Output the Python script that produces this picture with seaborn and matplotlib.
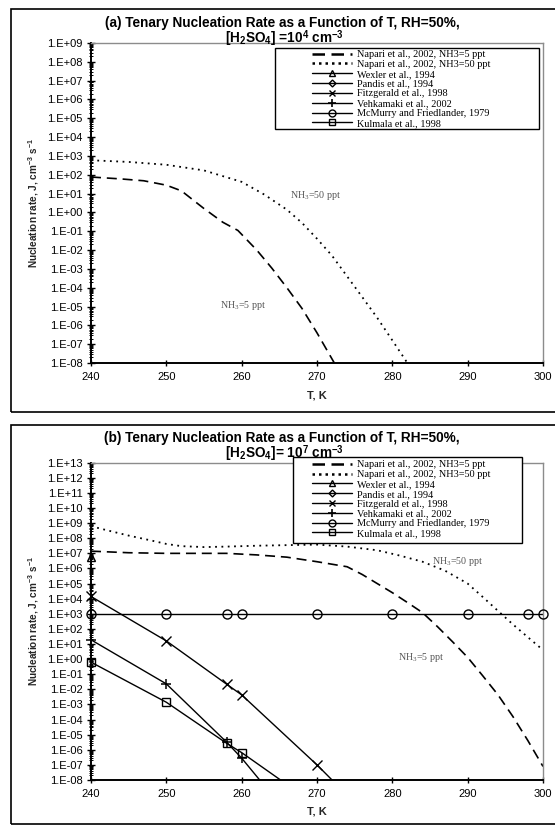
import numpy as np
import pandas as pd
import matplotlib
matplotlib.use("Agg")
import matplotlib.pyplot as plt
import seaborn as sns
from matplotlib.lines import Line2D
from matplotlib.patches import Rectangle
from matplotlib.font_manager import FontProperties
from matplotlib.ticker import LogLocator, FuncFormatter, MultipleLocator, NullFormatter

# ---------------- data ----------------
# Panel (a): [H2SO4] = 1e4 cm-3
a_T_5ppt = [240, 244, 247, 250, 252, 255, 257.5, 259.5, 262, 264, 266, 268, 270, 272.3]
a_J_5ppt = [7.6e1, 6.0e1, 4.8e1, 2.8e1, 1.4e1, 1.6e0, 3.0e-1, 1.1e-1, 1.0e-2, 1.1e-3, 1.0e-4, 8.0e-6, 4.0e-7, 1.0e-8]
a_T_50ppt = [240, 245, 250, 255, 260, 263, 266, 268, 270, 272, 274, 276, 278, 280, 282]
a_J_50ppt = [5.9e2, 4.8e2, 3.4e2, 1.7e2, 4.2e1, 8.9e0, 1.4e0, 2.8e-1, 4.0e-2, 5.0e-3, 4.0e-4, 3.2e-5, 2.5e-6, 1.6e-7, 1.0e-8]

# Panel (b): [H2SO4] = 1e7 cm-3
b_T_5ppt = [240, 245, 250, 255, 258, 262, 266, 270, 274, 276, 278, 280, 282, 284, 286, 288, 290, 292, 294, 296, 298, 300]
b_J_5ppt = [1.4e7, 1.1e7, 1.0e7, 1.0e7, 1.0e7, 7.9e6, 5.6e6, 2.8e6, 1.3e6, 4.0e5, 1.0e5, 2.5e4, 5.6e3, 1.2e3,
            1.4e2, 1.4e1, 1.3e0, 7.9e-2, 4.5e-3, 1.6e-4, 4.0e-6, 7.9e-8]
b_T_50ppt = [240, 242, 245, 248, 250, 252, 255, 258, 262, 266, 270, 274, 278, 281, 284, 287, 290, 292, 294, 296, 298, 300]
b_J_50ppt = [6.3e8, 3.5e8, 1.5e8, 7.1e7, 4.2e7, 3.0e7, 2.6e7, 2.8e7, 3.2e7, 3.5e7, 3.8e7, 2.8e7, 1.6e7, 7.1e6,
             2.8e6, 7.1e5, 1.0e5, 1.3e4, 1.6e3, 2.0e2, 2.8e1, 4.0e0]
wexler_T = [240]
wexler_J = [6.0e6]
fitz_T = [240, 250, 258, 260, 270, 280]
fitz_J = [1.4e4, 1.6e1, 2.2e-2, 4.3e-3, 1.0e-7, 1.0e-12]
vehk_T = [240, 250, 258, 260, 270]
vehk_J = [1.9e1, 2.3e-2, 3.2e-6, 2.8e-7, 2.5e-13]
kulm_T = [240, 250, 258, 260, 270]
kulm_J = [6.3e-1, 1.4e-3, 2.7e-6, 6.5e-7, 2.0e-10]
mcm_T = [240, 250, 258, 260, 270, 280, 290, 298, 300]
mcm_J = [1e3, 1e3, 1e3, 1e3, 1e3, 1e3, 1e3, 1e3, 1e3]

legend_labels = ["Napari et al., 2002, NH3=5 ppt", "Napari et al., 2002, NH3=50 ppt",
                 "Wexler et al., 1994", "Pandis et al., 1994", "Fitzgerald et al., 1998",
                 "Vehkamaki et al., 2002", "McMurry and Friedlander, 1979", "Kulmala et al., 1998"]

# ---------------- style ----------------
sns.set_theme(style="white")
plt.rcParams["font.family"] = ["Liberation Sans", "DejaVu Sans"]
plt.rcParams["mathtext.fontset"] = "custom"
plt.rcParams["mathtext.rm"] = "Liberation Serif"
plt.rcParams["mathtext.it"] = "Liberation Serif:italic"
plt.rcParams["mathtext.bf"] = "Liberation Sans:bold"
plt.rcParams["text.color"] = "black"

DASH = (0, (6, 3.5))
DOT = (0, (1, 2.5))
W = 555
H = 825

fig = plt.figure(figsize=(5.55, 8.25), dpi=100)
fig.patch.set_facecolor("white")


def px_axes(left, top, right, bottom):
    return fig.add_axes([left / W, 1 - bottom / H, (right - left) / W, (bottom - top) / H])


def style_axes(ax, ylo, yhi):
    ax.set_yscale("log")
    ax.set_xlim(240, 300)
    ax.set_ylim(ylo, yhi)
    ax.set_facecolor("white")
    ax.xaxis.set_major_locator(MultipleLocator(10))
    ax.yaxis.set_major_locator(LogLocator(base=10, numticks=100))
    ax.yaxis.set_minor_locator(LogLocator(base=10, subs=np.arange(2, 10), numticks=100))
    ax.yaxis.set_minor_formatter(NullFormatter())
    ax.yaxis.set_major_formatter(FuncFormatter(lambda v, p: "1.E{:+03d}".format(int(round(np.log10(v))))))
    ax.tick_params(axis="y", which="major", direction="inout", length=6, width=1, labelsize=8,
                   pad=3, left=True, color="black", labelcolor="black")
    ax.tick_params(axis="y", which="minor", direction="inout", length=3.5, width=0.7, left=True, color="black")
    ax.tick_params(axis="x", which="major", direction="inout", length=5, width=1, labelsize=8,
                   pad=4, bottom=True, color="black", labelcolor="black")
    for s in ["left", "bottom"]:
        ax.spines[s].set_color("black")
        ax.spines[s].set_linewidth(1.4)
    for s in ["top", "right"]:
        ax.spines[s].set_color("#8c8c8c")
        ax.spines[s].set_linewidth(1.0)
    ax.set_ylabel(r"Nucleation rate, J, cm$^{\mathbf{-3}}$ s$^{\mathbf{-1}}$", fontsize=7.2, fontweight="bold")
    ax.set_xlabel("T, K", fontsize=8, fontweight="bold")


def legend_handles():
    return [
        Line2D([], [], color="black", lw=1.8, linestyle=(0, (5, 2.6))),
        Line2D([], [], color="black", lw=1.8, linestyle=(0, (1, 1.6))),
        Line2D([], [], color="black", lw=1, marker="^", ms=5, mfc="none", mec="black", mew=1),
        Line2D([], [], color="black", lw=1, marker="D", ms=3.5, mfc="none", mec="black", mew=1),
        Line2D([], [], color="black", lw=1, marker="x", ms=5, mec="black", mew=1),
        Line2D([], [], color="black", lw=1, marker="+", ms=6, mec="black", mew=1.2),
        Line2D([], [], color="black", lw=1, marker="o", ms=5, mfc="none", mec="black", mew=1),
        Line2D([], [], color="black", lw=1, marker="s", ms=5, mfc="none", mec="black", mew=1),
    ]


def add_legend(ax, anchor, box):
    rect = Rectangle((box[0], box[1]), box[2] - box[0], box[3] - box[1], transform=ax.transAxes,
                     facecolor="white", edgecolor="black", lw=1.0, zorder=4, clip_on=False)
    ax.add_patch(rect)
    leg = ax.legend(legend_handles(), legend_labels, loc="upper left", bbox_to_anchor=anchor,
                    bbox_transform=ax.transAxes, frameon=False,
                    prop=FontProperties(family="Liberation Serif", size=7.4),
                    handlelength=3.9, handletextpad=0.45, labelspacing=0.06, borderpad=0, borderaxespad=0)
    leg.set_zorder(5)


def draw_line(ax, T, J, ls, lw):
    sns.lineplot(x=T, y=J, ax=ax, color="black", lw=lw, linestyle=ls, legend=False)


def draw_marker_series(ax, T, J, marker, ms, ylo, with_line=True, **mk):
    if with_line:
        sns.lineplot(x=T, y=J, ax=ax, color="black", lw=1.0, legend=False)
    T = np.asarray(T)
    J = np.asarray(J)
    keep = J >= ylo
    sns.lineplot(x=T[keep], y=J[keep], ax=ax, color="black", linestyle="", marker=marker, ms=ms,
                 markeredgecolor="black", clip_on=False, legend=False, zorder=3, **mk)


# ---------------- panel (a) ----------------
axA = px_axes(91, 43, 543, 363)
draw_line(axA, a_T_5ppt, a_J_5ppt, DASH, 1.2)
draw_line(axA, a_T_50ppt, a_J_50ppt, DOT, 1.3)
style_axes(axA, 1e-8, 1e9)
axA.yaxis.set_label_coords(-0.11, 0.5)
axA.xaxis.set_label_coords(0.5, -0.085)
add_legend(axA, anchor=(0.489, 0.978), box=(0.407, 0.731, 0.991, 0.984))
axA.text(266.4, 8.3, r"NH$_3$=50 ppt", fontsize=7.2, family="Liberation Serif", color="#555555", va="center")
axA.text(257.1, 1.2e-5, r"NH$_3$=5 ppt", fontsize=7.2, family="Liberation Serif", color="#555555", va="center")

# ---------------- panel (b) ----------------
axB = px_axes(91, 462.7, 543, 780)
draw_line(axB, b_T_5ppt, b_J_5ppt, DASH, 1.2)
draw_line(axB, b_T_50ppt, b_J_50ppt, DOT, 1.3)
draw_marker_series(axB, wexler_T, wexler_J, "^", 6, 1e-8, with_line=False, markerfacecolor="none", mew=1)
draw_marker_series(axB, fitz_T, fitz_J, "x", 6.5, 1e-8, mew=1)
draw_marker_series(axB, vehk_T, vehk_J, "+", 7, 1e-8, mew=1.1)
draw_marker_series(axB, kulm_T, kulm_J, "s", 5.5, 1e-8, markerfacecolor="none", mew=1)
draw_marker_series(axB, mcm_T, mcm_J, "o", 6.5, 1e-8, markerfacecolor="none", mew=1)
style_axes(axB, 1e-8, 1e13)
axB.yaxis.set_label_coords(-0.11, 0.5)
axB.xaxis.set_label_coords(0.5, -0.083)
add_legend(axB, anchor=(0.489, 1.008), box=(0.447, 0.747, 0.954, 1.018))
axB.text(285.2, 2.8e6, r"NH$_3$=50 ppt", fontsize=7.2, family="Liberation Serif", color="#555555", va="center")
axB.text(280.8, 1.2e0, r"NH$_3$=5 ppt", fontsize=7.2, family="Liberation Serif", color="#555555", va="center")

# ---------------- titles ----------------
TSIZE = 9.8
fig.text(282 / W, 1 - 23 / H, "(a) Tenary Nucleation Rate as a Function of T, RH=50%,", ha="center", va="center",
         fontsize=TSIZE, fontweight="bold")
fig.text(284 / W, 1 - 39 / H, r"[H$_\mathbf{2}$SO$_\mathbf{4}$] =10$^\mathbf{4}$ cm$^{\mathbf{-3}}$", ha="center",
         va="center", fontsize=TSIZE, fontweight="bold")
fig.text(282 / W, 1 - 438 / H, "(b) Tenary Nucleation Rate as a Function of T, RH=50%,", ha="center", va="center",
         fontsize=TSIZE, fontweight="bold")
fig.text(284 / W, 1 - 454 / H, r"[H$_\mathbf{2}$SO$_\mathbf{4}$]= 10$^\mathbf{7}$ cm$^{\mathbf{-3}}$", ha="center",
         va="center", fontsize=TSIZE, fontweight="bold")

# ---------------- panel frames ----------------
fig.add_artist(Rectangle((11 / W, 1 - 412 / H), 560 / W, 403 / H, transform=fig.transFigure,
                         fill=False, edgecolor="black", lw=1.2))
fig.add_artist(Rectangle((11 / W, 1 - 823.5 / H), 560 / W, 398.5 / H, transform=fig.transFigure,
                         fill=False, edgecolor="black", lw=1.2))

fig.savefig("out.png", dpi=100, facecolor="white")
